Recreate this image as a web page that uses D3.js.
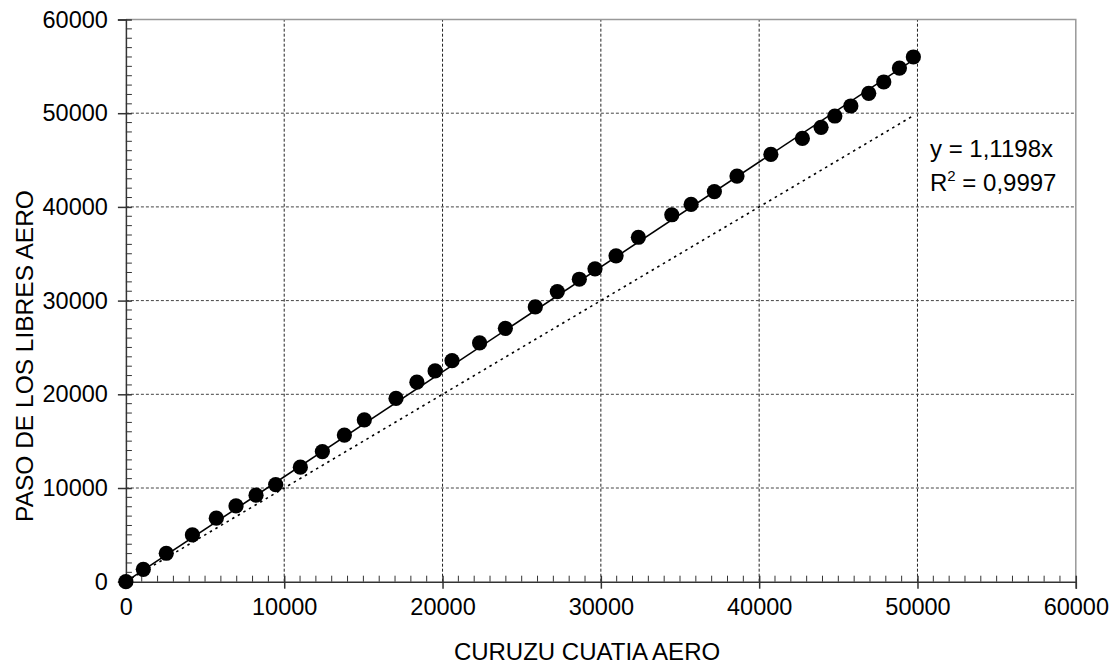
<!DOCTYPE html>
<html><head><meta charset="utf-8">
<script src="https://cdn.jsdelivr.net/npm/d3@7"></script>
<style>body{margin:0;background:#fff;} svg{display:block;} text{font-family:"Liberation Sans",Arial,sans-serif;fill:#000;}</style>
</head><body><svg id="c" width="1119" height="667"></svg>
<script>
const curuzu = [0,1100,2550,4200,5710,6955,8220,9460,11020,12410,13800,15060,17060,18380,19530,20600,22340,23970,25860,27250,28640,29630,30960,32370,34480,35700,37170,38600,40740,42730,43910,44780,45790,46920,47870,48860,49740];
const paso = [0,1325,3035,4990,6775,8090,9230,10370,12225,13890,15645,17280,19560,21290,22490,23590,25480,27040,29330,30960,32280,33390,34780,36760,39160,40260,41640,43290,45600,47310,48490,49700,50770,52120,53330,54820,56000];
const slope = 1.1198;
const r2Label = "0,9997";
const slopeLabel = "1,1198";
const identityEnd = 49700;
const xTicks = [0,10000,20000,30000,40000,50000,60000];
const yTicks = [0,10000,20000,30000,40000,50000,60000];
const xTitle = "CURUZU CUATIA AERO";
const yTitle = "PASO DE LOS LIBRES AERO";

const svg = d3.select("#c");
const x = d3.scaleLinear().domain([0,60000]).range([125.9,1075.8]);
const y = d3.scaleLinear().domain([0,60000]).range([581.7,19.5]);

// gridlines
const g = svg.append("g");
g.selectAll(".vg").data(xTicks.filter(d=>d>0&&d<60000)).join("line")
 .attr("x1",d=>x(d)).attr("x2",d=>x(d)).attr("y1",y(0)).attr("y2",y(60000))
 .attr("stroke","#222").attr("stroke-width",1).attr("stroke-dasharray","3,2");
g.selectAll(".hg").data(yTicks.filter(d=>d>0&&d<60000)).join("line")
 .attr("y1",d=>y(d)).attr("y2",d=>y(d)).attr("x1",x(0)).attr("x2",x(60000))
 .attr("stroke","#444").attr("stroke-width",1).attr("stroke-dasharray","3,2");
// top/right border
svg.append("path").attr("d",`M${x(0)},${y(60000)}H${x(60000)}V${y(0)}`)
 .attr("fill","none").attr("stroke","#999").attr("stroke-width",1.5);

// minor ticks
const minor = d3.range(0,60001,1000).filter(d=>d%10000!==0);
svg.append("g").selectAll("line").data(minor).join("line")
 .attr("x1",d=>x(d)).attr("x2",d=>x(d)).attr("y1",y(0)).attr("y2",y(0)-6)
 .attr("stroke","#333").attr("stroke-width",1);
svg.append("g").selectAll("line").data(minor).join("line")
 .attr("y1",d=>y(d)).attr("y2",d=>y(d)).attr("x1",x(0)).attr("x2",x(0)+6)
 .attr("stroke","#333").attr("stroke-width",1);

// axes
const xAxis = d3.axisBottom(x).tickValues(xTicks).tickSize(7).tickPadding(10).tickFormat(d=>String(d));
const yAxis = d3.axisLeft(y).tickValues(yTicks).tickSize(8).tickPadding(10).tickFormat(d=>String(d));
const xg = svg.append("g").attr("transform",`translate(0,${y(0)})`).call(xAxis);
const yg = svg.append("g").attr("transform",`translate(${x(0)},0)`).call(yAxis);
[xg,yg].forEach(a=>{
  a.select(".domain").attr("stroke","#333").attr("stroke-width",1.5);
  a.selectAll(".tick line").attr("stroke","#333").attr("stroke-width",1.5);
  a.selectAll(".tick text").style("font-family","Liberation Sans, Arial, sans-serif").style("font-size","23.5px").attr("fill","#000");
});
xg.selectAll(".tick line").attr("y1",-6);
yg.selectAll(".tick line").attr("x1",6);

// identity dotted line
svg.append("line").attr("x1",x(0)).attr("y1",y(0)).attr("x2",x(identityEnd)).attr("y2",y(identityEnd))
 .attr("stroke","#000").attr("stroke-width",1.6).attr("stroke-dasharray","2.5,4");
// trend line
const xmax = d3.max(curuzu);
svg.append("line").attr("x1",x(0)).attr("y1",y(0)).attr("x2",x(xmax)).attr("y2",y(slope*xmax))
 .attr("stroke","#000").attr("stroke-width",1.6);

// points
svg.append("g").selectAll("circle").data(curuzu.map((d,i)=>[d,paso[i]])).join("circle")
 .attr("cx",d=>x(d[0])).attr("cy",d=>y(d[1])).attr("r",7.6).attr("fill","#000");

// equation
svg.append("text").attr("x",930).attr("y",157).style("font-size","24px").text(`y = ${slopeLabel}x`);
const t2 = svg.append("text").attr("x",930).attr("y",191).style("font-size","24px");
t2.append("tspan").text("R");
t2.append("tspan").attr("dy",-10).style("font-size","15px").text("2");
t2.append("tspan").attr("dy",10).text(` = ${r2Label}`);

// titles
svg.append("text").attr("x",587).attr("y",660).attr("text-anchor","middle").style("font-size","24px").text(xTitle);
svg.append("text").attr("transform","translate(33,356) rotate(-90)").attr("text-anchor","middle").style("font-size","24.5px").text(yTitle);
</script></body></html>
